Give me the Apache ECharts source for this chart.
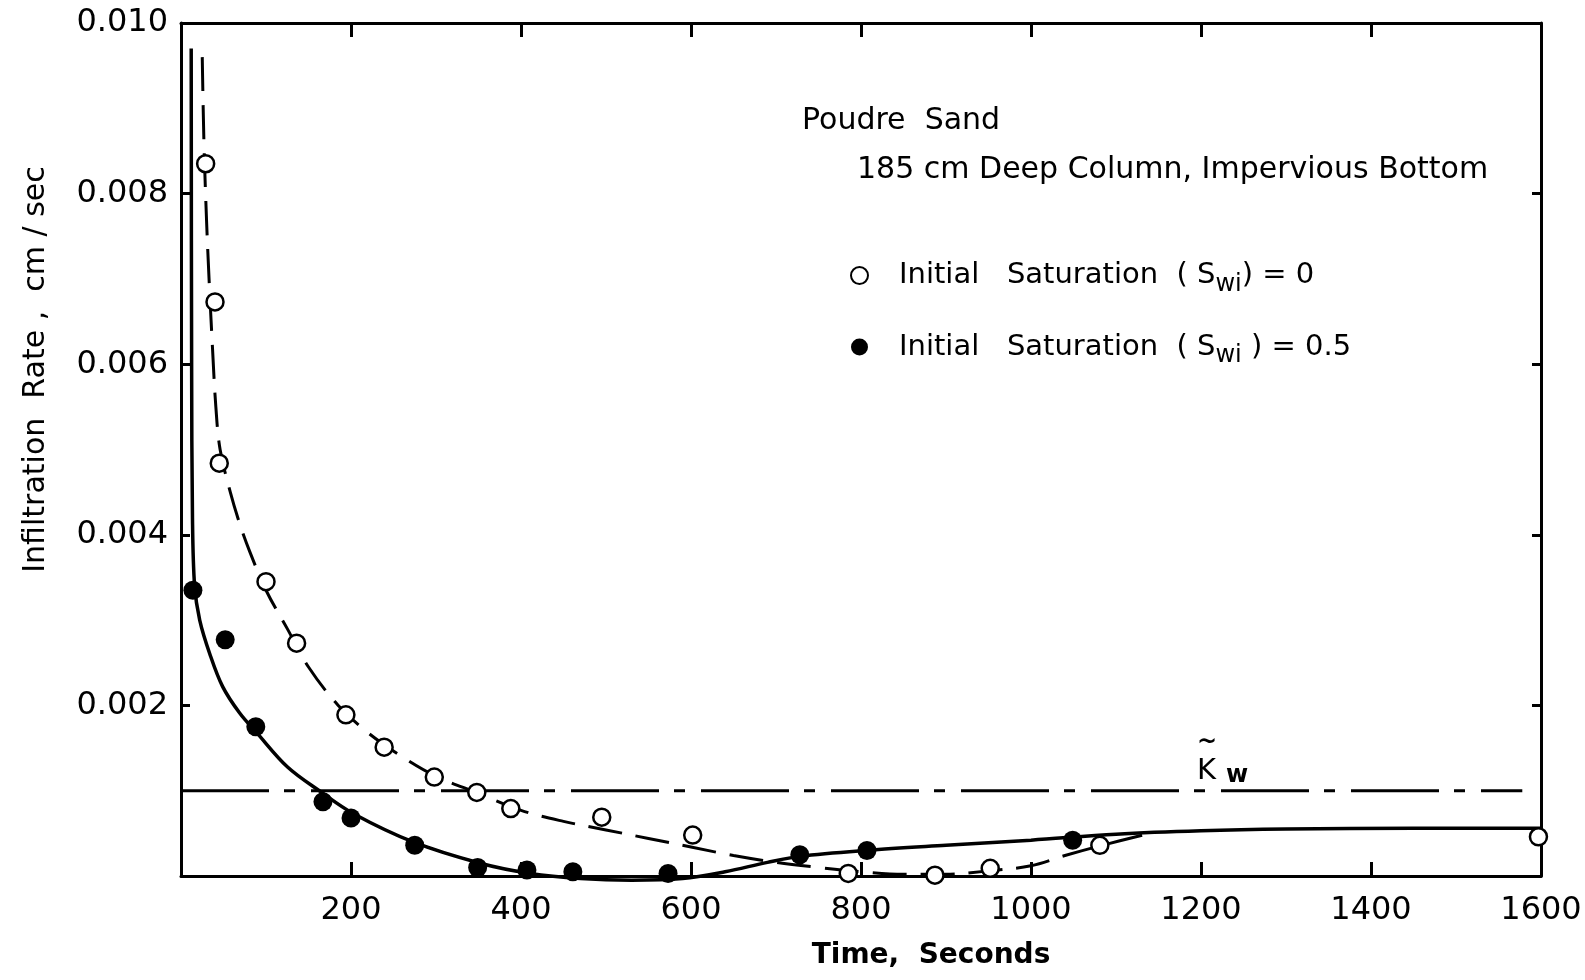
<!DOCTYPE html>
<html>
<head>
<meta charset="utf-8">
<script src="https://cdn.jsdelivr.net/npm/echarts@6/dist/echarts.min.js"></script>
<style>
  html, body { margin: 0; padding: 0; background: #fff; }
  #chart { width: 1585px; height: 980px; }
</style>
</head>
<body>
<div id="chart"></div>
<script>
// Infiltration rate vs. time, Poudre sand, 185 cm column with impervious bottom.

// Measured points, initial saturation Swi = 0 (open circles)
const dryTime = [29, 40, 45, 100, 136, 194, 239, 298, 348, 388, 495, 602, 785, 887, 952, 1081, 1597];
const dryRate = [0.00835, 0.00673, 0.00484, 0.00345, 0.00273, 0.00189, 0.00151, 0.00116, 0.00098, 0.00079,
                 0.00069, 0.00048, 0.00003, 0.00001, 0.00009, 0.00036, 0.00046];

// Measured points, initial saturation Swi = 0.5 (filled circles)
const wetTime = [14, 52, 88, 167, 200, 275, 349, 407, 461, 573, 728, 807, 1049];
const wetRate = [0.00335, 0.00277, 0.00175, 0.00087, 0.00068, 0.00036, 0.00010, 0.00007, 0.00005, 0.00003,
                 0.00025, 0.00030, 0.00042];

// Drawn trend curve through the Swi = 0 data (dashed)
const dryCurveTime = [25, 27, 30, 33, 37, 41, 46, 58, 70, 81, 100, 125, 150, 185, 220, 260, 300, 350, 400,
                      450, 500, 550, 600, 650, 700, 750, 800, 850, 900, 950, 1000, 1040, 1080, 1140];
const dryCurveRate = [0.0096, 0.0086, 0.0077, 0.0070, 0.0062, 0.0055, 0.0050, 0.0045, 0.0041, 0.0038,
                      0.00335, 0.0029, 0.00245, 0.0020, 0.00168, 0.0014, 0.00117, 0.00097, 0.00077,
                      0.00064, 0.00054, 0.00044, 0.00034, 0.00024, 0.00016, 0.00010, 0.00005, 0.00002,
                      0.00002, 0.00006, 0.00012, 0.00024, 0.00035, 0.00050];

// Drawn trend curve through the Swi = 0.5 data (solid)
const wetCurveTime = [12, 12.5, 13.5, 16, 22, 34, 49, 69, 89, 125, 164, 203, 273, 352, 411, 470, 530, 590,
                      640, 690, 728, 807, 900, 1000, 1100, 1200, 1300, 1450, 1600];
const wetCurveRate = [0.0097, 0.0060, 0.0042, 0.0034, 0.0030, 0.0026, 0.00222, 0.00191, 0.00168, 0.00128,
                      0.00099, 0.00073, 0.00040, 0.00015, 0.00003, -0.00003, -0.00005, -0.00003, 0.00005,
                      0.00016, 0.00023, 0.00030, 0.00036, 0.00042, 0.00049, 0.00053, 0.00055, 0.00056, 0.00056];

// Saturated hydraulic conductivity reference level K~w
const kwRate = 0.001;
const kwSpan = [0, 1578];

// Axis tick labels
const xTickLabels = ['', '200', '400', '600', '800', '1000', '1200', '1400', '1600'];
const yTickLabels = ['', '0.002', '0.004', '0.006', '0.008', '0.010'];

const FONT = 'DejaVu Sans';
const INK = '#000';
const zip = (xs, ys) => xs.map((x, i) => [x, ys[i]]);

const dryName = 'Initial Saturation (Swi) = 0';
const wetName = 'Initial Saturation (Swi) = 0.5';

const chart = echarts.init(document.getElementById('chart'), null, { renderer: 'canvas' });

const axisCommon = {
  axisLine: { show: true, onZero: false, lineStyle: { color: INK, width: 3 } },
  splitLine: { show: false },
};

chart.setOption({
  backgroundColor: '#fff',
  animation: false,
  grid: { left: 181, right: 44, top: 23, bottom: 104, containLabel: false, outerBoundsMode: 'none' },
  xAxis: [
    Object.assign({
      type: 'value', min: 0, max: 1600, interval: 200, position: 'bottom',
      axisTick: { show: true, inside: true, length: 14, lineStyle: { color: INK, width: 3 } },
      axisLabel: {
        color: INK, fontFamily: FONT, fontSize: 32, margin: 19,
        formatter: v => xTickLabels[Math.round(v / 200)] || ''
      },
      name: 'Time,  Seconds', nameLocation: 'middle', nameGap: 66,
      nameTextStyle: { color: INK, fontFamily: FONT, fontSize: 28, fontWeight: 'bold', padding: [0, 0, 0, 140] }
    }, axisCommon),
    Object.assign({
      type: 'value', min: 0, max: 1600, interval: 200, position: 'top',
      axisTick: { show: true, inside: true, length: 14, lineStyle: { color: INK, width: 3 } },
      axisLabel: { show: false }
    }, axisCommon)
  ],
  yAxis: [
    Object.assign({
      type: 'value', min: 0, max: 0.010, interval: 0.002, position: 'left',
      axisTick: { show: true, inside: true, length: 9, lineStyle: { color: INK, width: 3 } },
      axisLabel: {
        color: INK, fontFamily: FONT, fontSize: 32, margin: 13,
        formatter: v => yTickLabels[Math.round(v / 0.002)] || ''
      },
      name: 'Infiltration  Rate ,  cm / sec', nameLocation: 'middle', nameGap: 130,
      nameTextStyle: { color: INK, fontFamily: FONT, fontSize: 30, padding: [0, 0, 0, 160] }
    }, axisCommon),
    Object.assign({
      type: 'value', min: 0, max: 0.010, interval: 0.002, position: 'right',
      axisTick: { show: true, inside: true, length: 9, lineStyle: { color: INK, width: 3 } },
      axisLabel: { show: false }
    }, axisCommon)
  ],
  legend: {
    orient: 'vertical', left: 845, top: 256,
    itemWidth: 17, itemHeight: 17, itemGap: 36,
    icon: 'circle',
    data: [dryName, wetName],
    formatter: name => name === dryName
      ? 'Initial   Saturation  ( S{s|wi}) = 0'
      : 'Initial   Saturation  ( S{s|wi} ) = 0.5',
    textStyle: {
      color: INK, fontFamily: FONT, fontSize: 29, padding: [0, 0, 0, 26],
      rich: { s: { fontFamily: FONT, fontSize: 24, color: INK, padding: [18, 0, 0, 0] } }
    }
  },
  graphic: [
    { type: 'text', x: 802, y: 121, style: { text: 'Poudre  Sand', fill: INK, font: '30px "DejaVu Sans"', verticalAlign: 'middle' } },
    { type: 'text', x: 857, y: 170, style: { text: '185 cm Deep Column, Impervious Bottom', fill: INK, font: '30px "DejaVu Sans"', verticalAlign: 'middle' } },
    { type: 'text', x: 1197, y: 771, style: { text: 'K', fill: INK, font: '29px "DejaVu Sans"', verticalAlign: 'middle' } },
    { type: 'text', x: 1197, y: 743, style: { text: '~', fill: INK, font: 'bold 24px "DejaVu Sans"', verticalAlign: 'middle' } },
    { type: 'text', x: 1226, y: 776, style: { text: 'w', fill: INK, font: 'bold 24px "DejaVu Sans"', verticalAlign: 'middle' } }
  ],
  series: [
    {
      name: 'K~w', type: 'line', xAxisIndex: 0, yAxisIndex: 0,
      data: kwSpan.map(t => [t, kwRate]),
      showSymbol: false, silent: true,
      lineStyle: { color: INK, width: 3, type: [88, 15, 11, 16] }
    },
    {
      name: 'Swi = 0 curve', type: 'line', xAxisIndex: 0, yAxisIndex: 0,
      data: zip(dryCurveTime, dryCurveRate),
      showSymbol: false, smooth: 0.35, clip: false, silent: true,
      lineStyle: { color: INK, width: 3, type: [34, 14] }
    },
    {
      name: 'Swi = 0.5 curve', type: 'line', xAxisIndex: 0, yAxisIndex: 0,
      data: zip(wetCurveTime, wetCurveRate),
      showSymbol: false, smooth: 0.35, clip: false, silent: true,
      lineStyle: { color: INK, width: 3.5 }
    },
    {
      name: dryName, type: 'scatter', xAxisIndex: 0, yAxisIndex: 0,
      data: zip(dryTime, dryRate),
      symbol: 'circle', symbolSize: 17, clip: false, z: 5,
      itemStyle: { color: '#fff', borderColor: INK, borderWidth: 2.5, opacity: 1 }
    },
    {
      name: wetName, type: 'scatter', xAxisIndex: 0, yAxisIndex: 0,
      data: zip(wetTime, wetRate),
      symbol: 'circle', symbolSize: 19, clip: false, z: 5,
      itemStyle: { color: INK, opacity: 1 }
    }
  ]
});
</script>
</body>
</html>
